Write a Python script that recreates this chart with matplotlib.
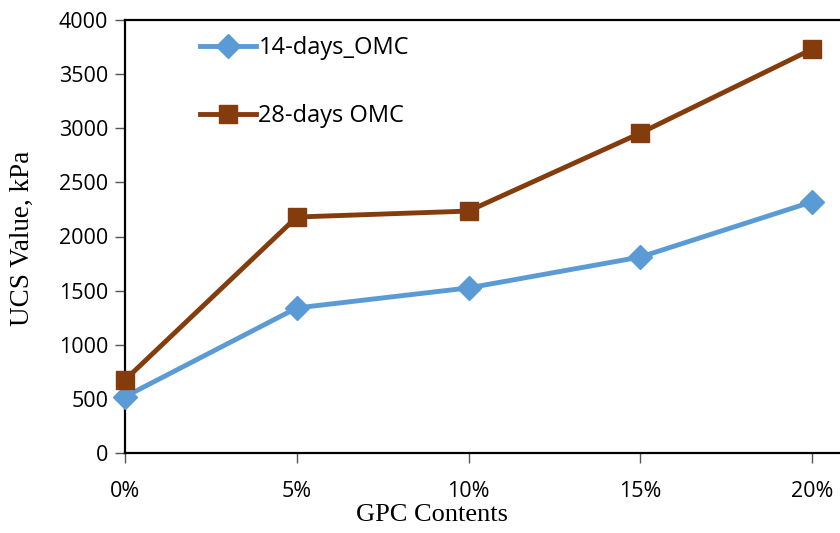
import numpy as np
import matplotlib.pyplot as plt

# UCS results vs GPC content
gpc = ["0%", "5%", "10%", "15%", "20%"]
ucs_14d = [520, 1340, 1525, 1810, 2320]
ucs_28d = [675, 2180, 2235, 2955, 3730]

plt.rcParams["font.family"] = "Open Sans"

x = np.arange(len(gpc))

fig = plt.figure(figsize=(8.4, 5.33), dpi=100)
ax = fig.add_axes([125 / 840, 80 / 533, 715 / 840, 433 / 533])

ax.plot(x, ucs_14d, color="#5B9BD5", lw=3.5, marker="D", ms=12,
        label="14-days_OMC", clip_on=False, zorder=3)
ax.plot(x, ucs_28d, color="#843C0C", lw=3.5, marker="s", ms=13,
        label="28-days OMC", clip_on=False, zorder=4)

ax.set_xlim(0, 715 / 171.75)
ax.set_ylim(0, 4000)
ax.set_yticks(np.arange(0, 4001, 500))
ax.set_xticks(x)
ax.set_xticklabels(gpc)

ax.tick_params(axis="both", direction="out", length=7, width=1,
               color="#555555", labelsize=15.5)
ax.tick_params(axis="x", pad=13)
ax.tick_params(axis="y", pad=5)

for side in ["left", "bottom", "top"]:
    ax.spines[side].set_linewidth(1.6)
ax.spines["right"].set_visible(False)

fig.text(22 / 840, 1 - 238 / 533, "UCS Value, kPa", rotation=90,
         ha="center", va="center", family="Liberation Serif", fontsize=19.5)
fig.text(432 / 840, 1 - 515 / 533, "GPC Contents",
         ha="center", va="center", family="Liberation Serif", fontsize=19)

leg = ax.legend(loc="upper left", bbox_to_anchor=(0.105, 0.962), frameon=False,
                fontsize=17, borderpad=0, borderaxespad=0,
                handlelength=2.35, handletextpad=0.12, labelspacing=1.85)

fig.savefig("out.png", dpi=100)
